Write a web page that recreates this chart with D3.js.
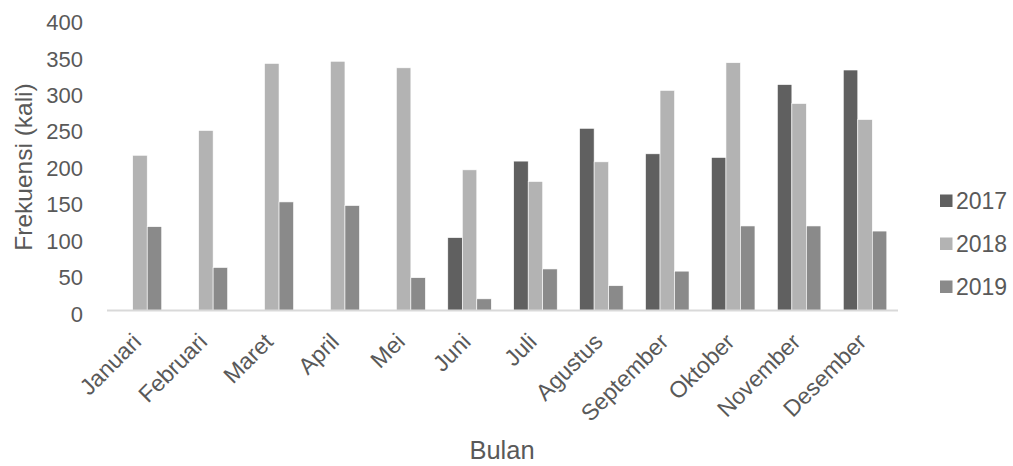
<!DOCTYPE html>
<html>
<head>
<meta charset="utf-8">
<script src="https://cdn.jsdelivr.net/npm/d3@7"></script>
<style>
  html, body { margin: 0; padding: 0; background: #fff; }
  svg text { font-family: "Liberation Sans", Arial, sans-serif; fill: #595959; }
</style>
</head>
<body>
<svg id="chart" width="1013" height="466"></svg>
<script>
// Monthly frequency per year
const months = ["Januari", "Februari", "Maret", "April", "Mei", "Juni", "Juli",
                "Agustus", "September", "Oktober", "November", "Desember"];
const years = ["2017", "2018", "2019"];
const values2017 = [0, 0, 0, 0, 0, 100, 205, 250, 215, 210, 310, 330];
const values2018 = [213, 247, 339, 342, 333, 193, 177, 204, 302, 340, 284, 262];
const values2019 = [115, 59, 149, 144, 45, 16, 57, 34, 54, 116, 116, 109];
const yTicks = [0, 50, 100, 150, 200, 250, 300, 350, 400];
const colors = ["#606060", "#b3b3b3", "#8a8a8a"];

const seriesValues = [values2017, values2018, values2019];

const svg = d3.select("#chart");
const plot = { left: 107, right: 898, top: 19, bottom: 310.5 };
const fontFamily = '"Liberation Sans", Arial, sans-serif';

const x = d3.scaleBand()
  .domain(months)
  .range([plot.left, plot.right])
  .paddingInner(0.34)
  .paddingOuter(0.17);

const xInner = d3.scaleBand()
  .domain(years)
  .range([0, x.bandwidth()]);

const y = d3.scaleLinear()
  .domain([0, 400])
  .range([plot.bottom, plot.top]);

// Bars
const groups = svg.append("g")
  .selectAll("g")
  .data(months)
  .join("g")
  .attr("transform", d => `translate(${x(d)},0)`);

groups.selectAll("rect")
  .data((m, i) => years.map((yr, s) => ({ yr, s, v: seriesValues[s][i] })))
  .join("rect")
  .filter(d => d.v > 0)
  .attr("x", d => xInner(d.yr))
  .attr("width", xInner.bandwidth())
  .attr("y", d => y(d.v))
  .attr("height", d => y(0) - y(d.v))
  .attr("fill", d => colors[d.s])
  .attr("stroke", "#ffffff")
  .attr("stroke-width", 0.6);

// Y axis labels (no axis line)
const yAxis = svg.append("g")
  .attr("transform", `translate(${plot.left},0)`)
  .call(d3.axisLeft(y).tickValues(yTicks).tickSize(0).tickPadding(24));
yAxis.select(".domain").remove();
yAxis.selectAll("text")
  .attr("font-size", 22)
  .attr("dy", "0.48em")
  .style("font-family", fontFamily)
  .attr("fill", "#595959");

// X axis baseline and rotated month labels
const xAxis = svg.append("g")
  .attr("transform", `translate(0,${plot.bottom})`)
  .call(d3.axisBottom(x).tickSize(0).tickPadding(0));
xAxis.select(".domain")
  .attr("stroke", "#d9d9d9")
  .attr("stroke-width", 2)
  .attr("d", `M${plot.left},0H${plot.right}`);
xAxis.selectAll(".tick text")
  .attr("font-size", 23)
  .style("font-family", fontFamily)
  .attr("fill", "#595959")
  .attr("text-anchor", "end")
  .attr("y", 0)
  .attr("dy", "0.35em")
  .attr("transform", "translate(-3,27) rotate(-45)");

// Axis titles
svg.append("text")
  .attr("transform", "translate(32,167) rotate(-90)")
  .attr("text-anchor", "middle")
  .attr("font-size", 24.5)
  .text("Frekuensi (kali)");

svg.append("text")
  .attr("x", 502)
  .attr("y", 459)
  .attr("text-anchor", "middle")
  .attr("font-size", 25.5)
  .text("Bulan");

// Legend
const legendY = d3.scalePoint().domain(years).range([201, 287]);
const legend = svg.append("g")
  .selectAll("g")
  .data(years)
  .join("g")
  .attr("transform", d => `translate(940,${legendY(d)})`);
legend.append("rect")
  .attr("x", 0).attr("y", -6.5)
  .attr("width", 12.5).attr("height", 12.5)
  .attr("fill", (d, i) => colors[i]);
legend.append("text")
  .attr("x", 16)
  .attr("dy", "0.36em")
  .attr("font-size", 23)
  .text(d => d);
</script>
</body>
</html>
